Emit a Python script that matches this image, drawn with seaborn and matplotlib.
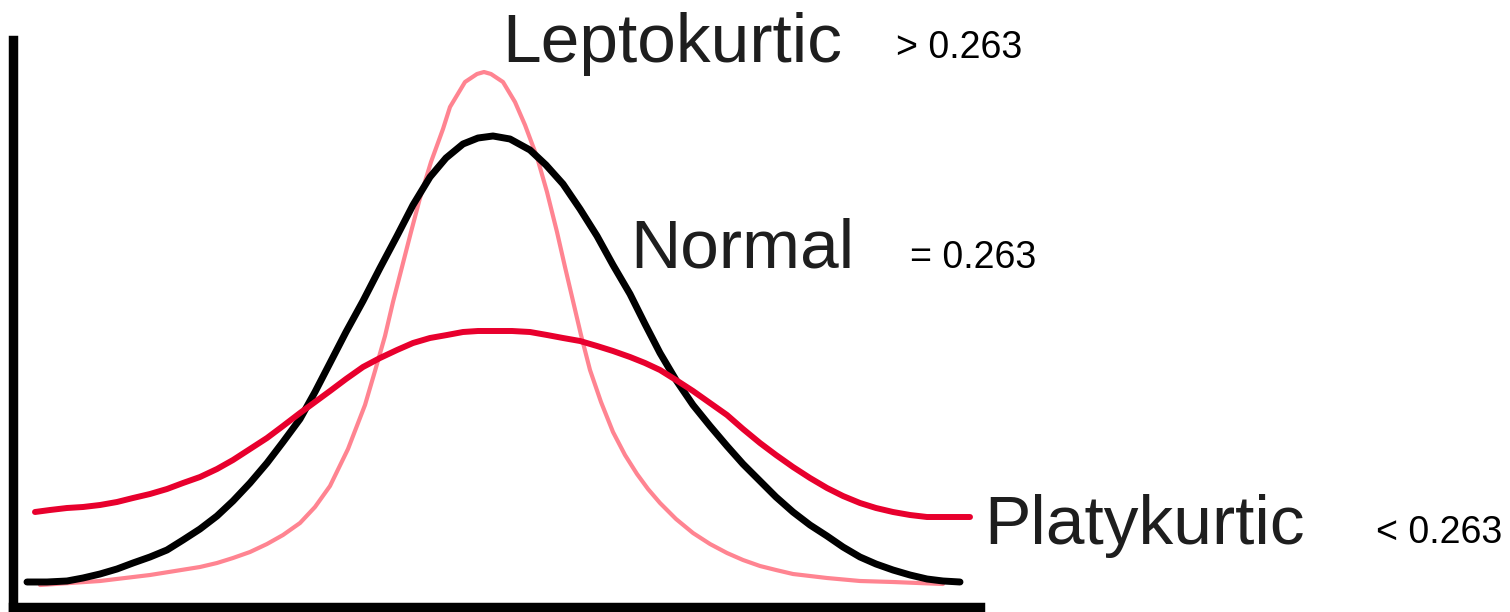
import numpy as np
import pandas as pd
import matplotlib
matplotlib.use("Agg")
import matplotlib.pyplot as plt
import seaborn as sns

# 曲线数据：横向位置 与 距底轴的高度
normal_x = [27, 47, 67, 83, 100, 117, 133, 150, 167, 183, 200, 217, 233, 250, 267, 283,
            300, 315, 330, 346, 363, 380, 397, 413, 430, 446, 463, 478, 493, 510, 530,
            546, 563, 580, 597, 613, 630, 645, 660, 676, 693, 710, 727, 743, 760, 776,
            793, 810, 827, 843, 860, 876, 893, 910, 927, 943, 960]
normal_h = [25, 25, 26, 29, 33, 38, 44, 50, 57, 67, 78, 91, 106, 124, 144, 165,
            188, 215, 244, 275, 306, 339, 371, 402, 430, 449, 463, 469, 471, 468, 457,
            442, 423, 398, 371, 342, 313, 283, 254, 227, 202, 181, 161, 143, 126, 110,
            95, 82, 71, 60, 50, 43, 37, 32, 28, 26, 25]

lepto_x = [40, 70, 100, 125, 150, 175, 200, 217, 233, 250, 267, 283, 300, 315, 330, 348,
           365, 375, 385, 393, 402, 411, 420, 431, 443, 450, 465, 477, 484, 491, 503,
           515, 525, 537, 547, 557, 565, 573, 581, 590, 601, 613, 625, 637, 648, 660,
           676, 693, 710, 727, 743, 760, 776, 793, 810, 827, 860, 893, 943]
lepto_h = [22, 24, 26, 29, 32, 36, 40, 44, 49, 55, 63, 72, 84, 100, 121, 158,
           202, 236, 271, 305, 340, 375, 409, 445, 478, 500, 525, 533, 535, 533, 525,
           505, 482, 450, 415, 375, 340, 306, 272, 237, 205, 175, 152, 133, 118, 104,
           88, 74, 63, 54, 47, 41, 37, 33, 31, 29, 26, 25, 23]

platy_x = [35, 50, 67, 83, 100, 117, 133, 150, 167, 183, 200, 217, 233, 250, 267, 283,
           300, 315, 330, 346, 363, 380, 397, 413, 430, 447, 463, 478, 493, 512, 530,
           547, 563, 580, 597, 613, 630, 645, 660, 676, 693, 710, 727, 743, 760, 776,
           793, 810, 827, 843, 860, 876, 893, 910, 927, 948, 970]
platy_h = [95, 97, 99, 100, 102, 105, 109, 113, 118, 124, 130, 138, 147, 158, 169, 181,
           194, 205, 216, 228, 240, 249, 257, 264, 269, 272, 275, 276, 276, 276, 275,
           272, 269, 266, 261, 256, 250, 244, 237, 227, 216, 204, 192, 178, 164, 152,
           140, 129, 119, 111, 104, 99, 95, 92, 90, 90, 90]

labels = ["Leptokurtic", "Normal", "Platykurtic"]
label_x = [502, 630, 984]
label_y = [545, 339, 63]
notes = ["> 0.263", "= 0.263", "< 0.263"]
note_x = [896, 910, 1376]
note_y = [549, 339, 64]

sns.set_style("white")
plt.rcParams['font.family'] = ['Liberation Sans', 'DejaVu Sans']

W, H, DPI = 1510, 612, 100
fig = plt.figure(figsize=(W / DPI, H / DPI), dpi=DPI)
x0, x1, top, base = 13, 980, 40, 607
ax = fig.add_axes([x0 / W, (H - base) / H, (x1 - x0) / W, (base - top) / H])

lepto = pd.DataFrame({"x": lepto_x, "h": lepto_h})
normal = pd.DataFrame({"x": normal_x, "h": normal_h})
platy = pd.DataFrame({"x": platy_x, "h": platy_h})

kw = dict(estimator=None, sort=False, solid_capstyle="round", solid_joinstyle="round")
sns.lineplot(data=lepto, x="x", y="h", ax=ax, color="#ff8491", linewidth=3.0, **kw)
sns.lineplot(data=normal, x="x", y="h", ax=ax, color="#000000", linewidth=5.0, **kw)
sns.lineplot(data=platy, x="x", y="h", ax=ax, color="#e8002d", linewidth=4.3, **kw)

ax.set_xlim(x0, x1)
ax.set_ylim(0, base - top)
ax.set_xticks([])
ax.set_yticks([])
ax.set_xlabel("")
ax.set_ylabel("")
for s in ["top", "right"]:
    ax.spines[s].set_visible(False)
for s in ["left", "bottom"]:
    ax.spines[s].set_color("black")
    ax.spines[s].set_linewidth(6.8)

for t, x, y in zip(labels, label_x, label_y):
    ax.text(x, y, t, fontsize=50, color="#1e1e1e", va="baseline", ha="left", clip_on=False)
for t, x, y in zip(notes, note_x, note_y):
    ax.text(x, y, t, fontsize=27, color="black", va="baseline", ha="left", clip_on=False)

fig.savefig("out.png", dpi=DPI)
